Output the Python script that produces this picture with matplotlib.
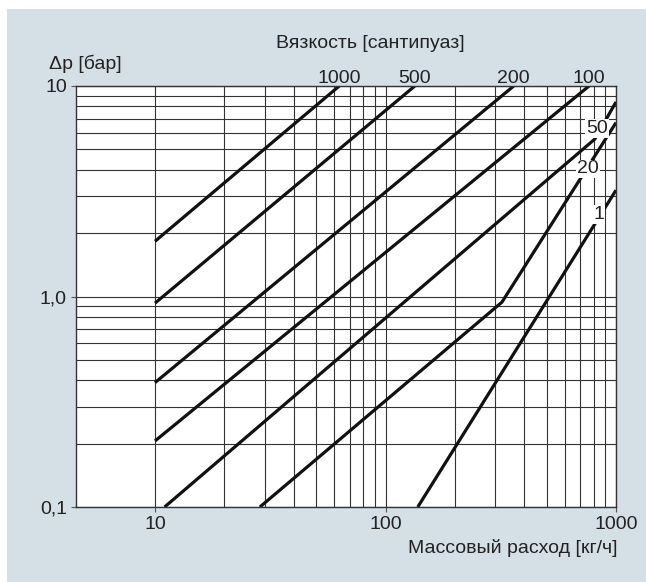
import numpy as np
import matplotlib
matplotlib.use("Agg")
import matplotlib.pyplot as plt
from matplotlib.patches import Rectangle

plt.rcParams['font.family'] = ['Liberation Sans', 'DejaVu Sans']

# Кривые перепада давления для разных вязкостей (сП)
visc_labels = ['1000', '500', '200', '100', '50', '20', '1']
flow = [
    [10, 63],
    [10, 134],
    [10, 360],
    [10, 764],
    [11, 810, 1000],
    [28.5, 320, 1000],
    [138, 1000],
]
dp = [
    [1.83, 10],
    [0.93, 10],
    [0.39, 10],
    [0.206, 10],
    [0.1, 5.6, 8.4],
    [0.1, 0.94, 6.7],
    [0.1, 3.2],
]
# подписи на правом краю: (x, y)
side_labels = {'50': (828, 6.3), '20': (755, 4.04), '1': (843, 2.45)}

xticks = [10, 100, 1000]
xticklabels = ['10', '100', '1000']
yticks = [0.1, 1, 10]
yticklabels = ['0,1', '1,0', '10']

bg = '#d4dfe6'
txt = '#222222'
fs = 14

fig = plt.figure(figsize=(6.46, 5.82), dpi=100)
fig.patch.set_facecolor('white')
fig.patches.append(Rectangle((7 / 646, 0), 1, 1 - 9 / 582, transform=fig.transFigure,
                             facecolor=bg, edgecolor='none', zorder=-10))

ax = fig.add_axes([76 / 646, 1 - 507 / 582, 540 / 646, 421 / 582])
ax.set_facecolor('white')
ax.set_xscale('log')
ax.set_yscale('log')
ax.set_xlim(4.54, 1000)
ax.set_ylim(0.1, 10)

# сетка
xgrid = [v * d for d in (10, 100) for v in range(1, 10)] + [1000]
ygrid = [v * d for d in (0.1, 1) for v in range(1, 10)] + [10]
for g in xgrid:
    ax.axvline(g, color='#333333', lw=0.8, zorder=1)
for g in ygrid:
    ax.axhline(g, color='#333333', lw=0.8, zorder=1)

for x, y in zip(flow, dp):
    ax.plot(x, y, color='#111111', lw=2.3, solid_capstyle='butt', zorder=3)

for lab, x in zip(visc_labels[:4], flow[:4]):
    ax.annotate(lab, xy=(x[-1], 1.0), xycoords=('data', 'axes fraction'),
                xytext=(0, 2), textcoords='offset points',
                ha='center', va='baseline', fontsize=fs, color=txt)

for lab, (x, y) in side_labels.items():
    ax.text(x, y, lab, ha='center', va='center', fontsize=fs, color=txt, zorder=4,
            bbox=dict(facecolor='white', edgecolor='none', pad=0.5))

ax.set_xticks(xticks)
ax.set_xticklabels(xticklabels)
ax.set_yticks(yticks)
ax.set_yticklabels(yticklabels)
ax.minorticks_off()
ax.tick_params(axis='both', length=3.5, width=0.8, color='#555555',
               labelsize=fs, labelcolor=txt, pad=3)
for s in ax.spines.values():
    s.set_color('#333333')
    s.set_linewidth(1.0)
    s.set_zorder(5)

fig.text(0.574, 0.926, 'Вязкость [сантипуаз]', ha='center', va='center', fontsize=fs, color=txt)
fig.text(0.132, 0.890, 'Δp [бар]', ha='center', va='center', fontsize=fs, color=txt)
fig.text(617 / 646, 1 - 548 / 582, 'Массовый расход [кг/ч]', ha='right', va='center',
         fontsize=fs, color=txt)

fig.savefig('out.png', dpi=100, facecolor=fig.get_facecolor())
